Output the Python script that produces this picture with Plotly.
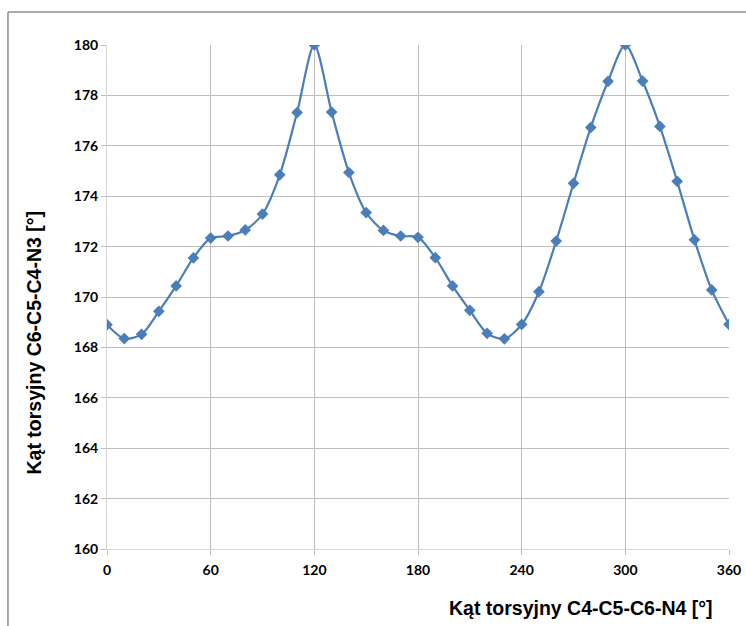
import plotly.graph_objects as go

# kąt C4-C5-C6-N4 co 10 stopni
angle_x = list(range(0, 361, 10))
angle_y = [
    168.9, 168.35, 168.52, 169.43, 170.44, 171.55, 172.34, 172.42, 172.66, 173.29,
    174.85, 177.32, 180.0, 177.34, 174.94, 173.35, 172.64, 172.42, 172.37, 171.56,
    170.44, 169.47, 168.56, 168.34, 168.91, 170.21, 172.22, 174.51, 176.73, 178.56,
    180.0, 178.57, 176.77, 174.59, 172.27, 170.28, 168.91,
]
x_ticks = [0, 60, 120, 180, 240, 300, 360]
y_ticks = list(range(160, 181, 2))

fig = go.Figure()

fig.add_trace(
    go.Scatter(
        x=angle_x,
        y=angle_y,
        mode="lines+markers",
        line=dict(color="#4A7EBB", width=2.2, shape="spline", smoothing=0.8),
        marker=dict(symbol="diamond", size=9, color="#4A7EBB"),
        showlegend=False,
    )
)

tick_font = dict(family="Lato, 'Liberation Sans', sans-serif", size=14, color="#000000")
title_font = dict(family="'Liberation Sans', Arial, sans-serif", size=19.5, color="#000000")

frame = dict(color="#8C8C8C", width=1.5)

fig.update_layout(
    width=746,
    height=626,
    autosize=False,
    margin=dict(l=107, r=17, t=45, b=77),
    plot_bgcolor="white",
    paper_bgcolor="white",
    # ramka wykresu - widoczna tylko lewa i górna krawędź
    shapes=[
        dict(type="line", xref="paper", yref="paper",
             x0=-0.1592, x1=-0.1592, y0=-0.3, y1=1.0655, line=frame),
        dict(type="line", xref="paper", yref="paper",
             x0=-0.1592, x1=1.2, y0=1.0655, y1=1.0655, line=frame),
    ],
    annotations=[
        dict(
            text="<b>Kąt torsyjny C4-C5-C6-N4 [°]</b>",
            xref="paper", yref="paper", x=0.978, y=-0.117,
            xanchor="right", yanchor="middle", showarrow=False, font=title_font,
        ),
        dict(
            text="<b>Kąt torsyjny C6-C5-C4-N3 [°]</b>",
            xref="paper", yref="paper", x=-0.118, y=0.409,
            xanchor="center", yanchor="middle", textangle=-90,
            showarrow=False, font=title_font,
        ),
    ],
)

fig.update_xaxes(
    range=[0, 360],
    automargin=False,
    tickvals=x_ticks,
    ticktext=[f"<b>{v}</b>" for v in x_ticks],
    tickfont=tick_font,
    ticklabelstandoff=3,
    showgrid=True,
    gridcolor="#BDBDBD",
    gridwidth=1,
    zeroline=False,
    showline=True,
    linecolor="#D4D4D4",
    ticks="outside",
    ticklen=5,
    tickcolor="#BDBDBD",
)
fig.update_yaxes(
    range=[160, 180],
    automargin=False,
    tickvals=y_ticks,
    ticktext=[f"<b>{v}</b>" for v in y_ticks],
    tickfont=tick_font,
    showgrid=True,
    gridcolor="#BDBDBD",
    gridwidth=1,
    zeroline=False,
    showline=True,
    linecolor="#D4D4D4",
    ticks="outside",
    ticklen=5,
    tickcolor="#BDBDBD",
)

# bez marginesu strony i bez pasków przewijania
page_js = (
    "document.body.style.margin='0';"
    "document.body.style.overflow='hidden';"
    "document.documentElement.style.overflow='hidden';"
)
fig.write_html(
    "out.html",
    config={"displayModeBar": False, "responsive": False},
    post_script=page_js,
)
